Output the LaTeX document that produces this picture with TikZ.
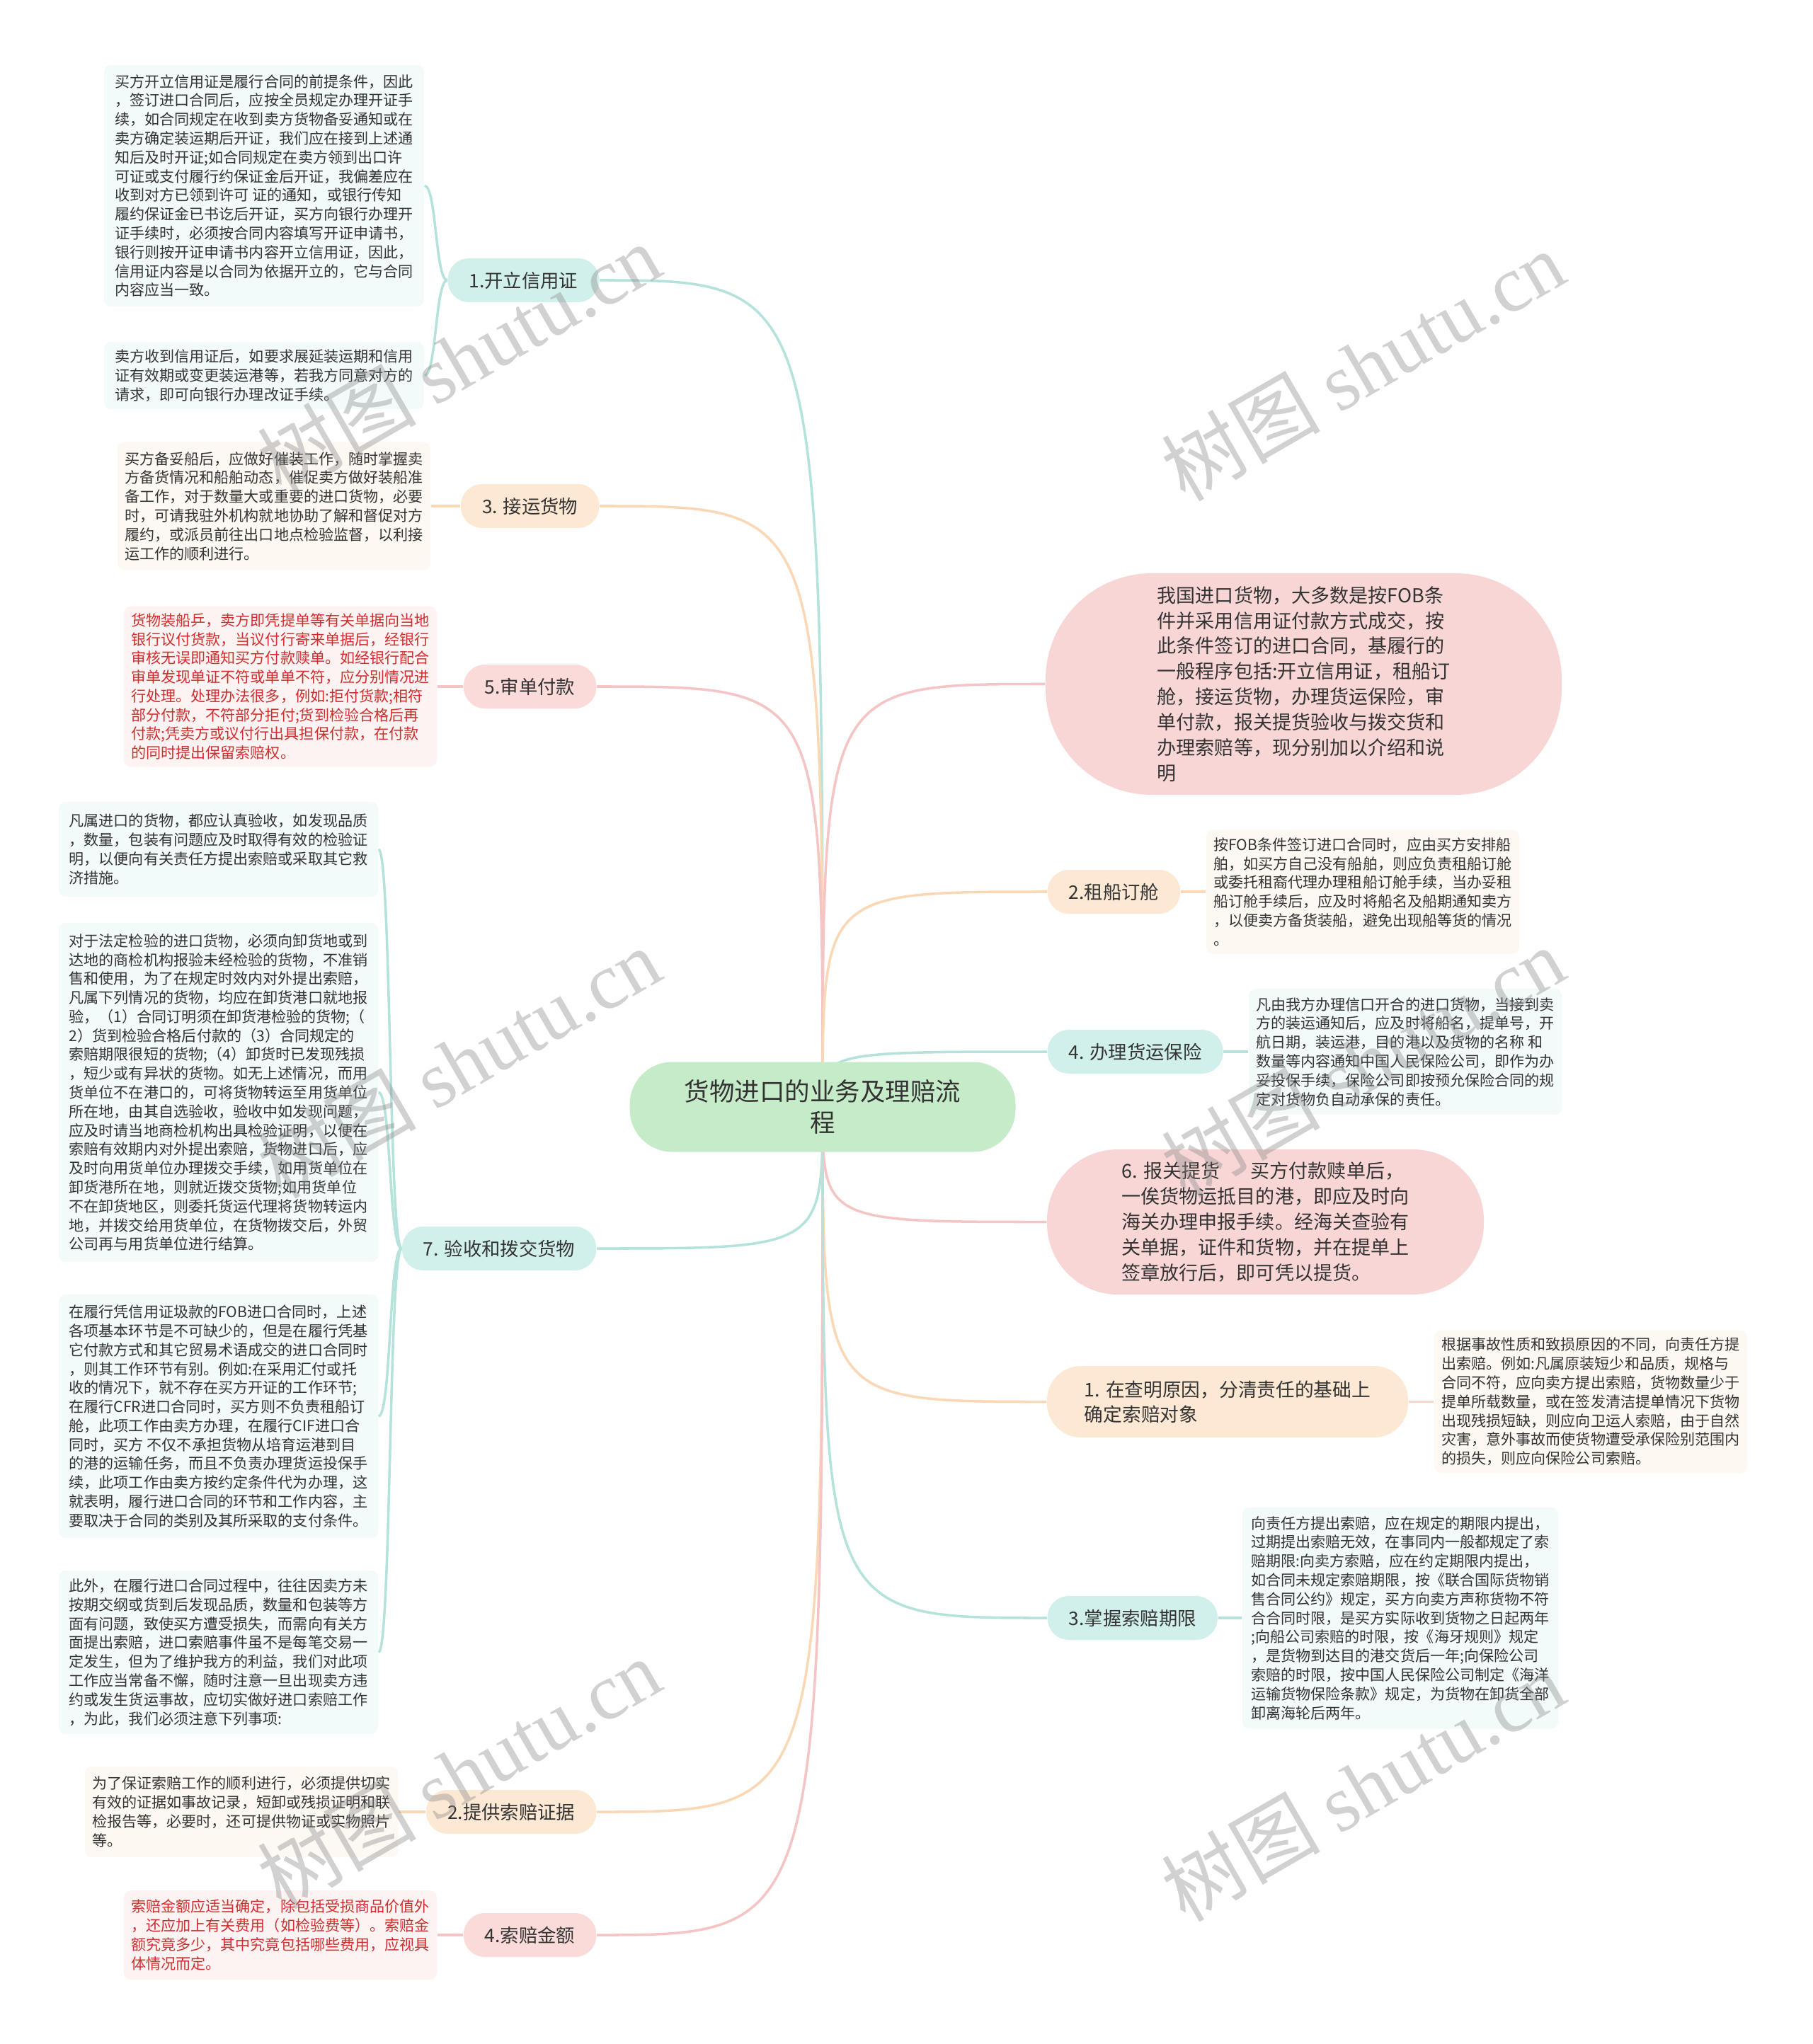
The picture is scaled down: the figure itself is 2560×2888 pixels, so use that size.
\documentclass[tikz,border=0pt]{standalone}
\usepackage{fontspec}
\setmainfont{Noto Sans CJK SC}
\newfontfamily\wmserif{Liberation Serif}
\usetikzlibrary{backgrounds}
\definecolor{tealF}{HTML}{D2F0EB}
\definecolor{tealL}{HTML}{B5E3DB}
\definecolor{orF}{HTML}{FDE8D4}
\definecolor{orL}{HTML}{FAD8B6}
\definecolor{pkF}{HTML}{FBDADA}
\definecolor{pkL}{HTML}{F5C4C4}
\definecolor{bigP}{HTML}{F9D6D6}
\definecolor{rootF}{HTML}{C6EBC8}
\definecolor{leafT}{HTML}{F3FAFA}
\definecolor{leafO}{HTML}{FEF8F2}
\definecolor{leafP}{HTML}{FEF3F3}
\definecolor{txt}{HTML}{333333}
\definecolor{redT}{HTML}{CF2E2E}
\definecolor{wmgray}{HTML}{8C8C8C}
\begin{document}
\begin{tikzpicture}[x=0.1mm,y=-0.1mm,
  conn/.style={line width=1pt},
  leaf/.style={rounded corners=1mm, align=left, inner sep=0pt, font=\fontsize{6}{7.62}\selectfont, text=txt},
  br/.style={rounded corners=3mm, inner xsep=3mm, inner ysep=0pt, minimum height=6.2mm, font=\fontsize{7.5}{9}\selectfont, text=txt},
  pill/.style={align=left, inner sep=0pt, font=\fontsize{7.7}{10.2}\selectfont, text=txt},
  root/.style={fill=rootF, rounded corners=6mm, minimum width=54.5mm, minimum height=12.7mm, align=center, inner sep=0pt, font=\fontsize{10.1}{12.6}\selectfont, text=txt},
  wm/.style={text=wmgray, opacity=0.4, font=\fontsize{32}{36}\selectfont, rotate=30, inner sep=0pt}
]
\useasboundingbox (0,0) rectangle (2560,2888);

% root
\node[root] (root) at (1162,1564) {货物进口的业务及理赔流\\程};

% left branches
\node[br, fill=tealF, anchor=east] (b1) at (847,396) {1.开立信用证};
\node[br, fill=orF, anchor=east] (b3) at (847,715) {3. 接运货物};
\node[br, fill=pkF, anchor=east] (b5) at (843,970) {5.审单付款};
\node[br, fill=tealF, anchor=east] (b7) at (843,1764) {7. 验收和拨交货物};
\node[br, fill=orF, anchor=east] (b2c) at (843,2560) {2.提供索赔证据};
\node[br, fill=pkF, anchor=east] (b4c) at (843,2734) {4.索赔金额};

% right branches
\node[pill, fill=bigP, minimum width=72.9mm, minimum height=31.3mm, rounded corners=15mm] (p1) at (1841.5,966.5)
 {我国进口货物，大多数是按FOB条\\件并采用信用证付款方式成交，按\\此条件签订的进口合同，基履行的\\一般程序包括:开立信用证，租船订\\舱，接运货物，办理货运保险，审\\单付款，报关提货验收与拨交货和\\办理索赔等，现分别加以介绍和说\\明};
\node[br, fill=orF, anchor=west] (r2) at (1479,1260) {2.租船订舱};
\node[br, fill=tealF, anchor=west] (r4) at (1479,1486) {4. 办理货运保险};
\node[pill, fill=bigP, minimum width=61.7mm, minimum height=20.5mm, rounded corners=10mm] (p6) at (1787.5,1726.5)
 {6. 报关提货\hspace{1.6em}买方付款赎单后，\\一俟货物运抵目的港，即应及时向\\海关办理申报手续。经海关查验有\\关单据，证件和货物，并在提单上\\签章放行后，即可凭以提货。};
\node[pill, fill=orF, minimum width=51mm, minimum height=10.1mm, rounded corners=4.8mm, font=\fontsize{7.6}{10}\selectfont] (p11) at (1734,1980.5)
 {1. 在查明原因，分清责任的基础上\\确定索赔对象};
\node[br, fill=tealF, anchor=west] (r3) at (1479,2286) {3.掌握索赔期限};

% left leaves
\node[leaf, fill=leafT, minimum width=45.2mm, minimum height=34.1mm] (A1) at (373,262.5)
 {买方开立信用证是履行合同的前提条件，因此\\，签订进口合同后，应按全员规定办理开证手\\续，如合同规定在收到卖方货物备妥通知或在\\卖方确定装运期后开证，我们应在接到上述通\\知后及时开证;如合同规定在卖方领到出口许\\可证或支付履行约保证金后开证，我偏差应在\\收到对方已领到许可~证的通知，或银行传知\\履约保证金已书讫后开证，买方向银行办理开\\证手续时，必须按合同内容填写开证申请书，\\银行则按开证申请书内容开立信用证，因此，\\信用证内容是以合同为依据开立的，它与合同\\内容应当一致。};
\node[leaf, fill=leafT, minimum width=45.2mm, minimum height=9.5mm] (A2) at (373,530.5)
 {卖方收到信用证后，如要求展延装运期和信用\\证有效期或变更装运港等，若我方同意对方的\\请求，即可向银行办理改证手续。};
\node[leaf, fill=leafO, minimum width=44.2mm, minimum height=18.1mm] (B) at (387,715)
 {买方备妥船后，应做好催装工作，随时掌握卖\\方备货情况和船舶动态，催促卖方做好装船准\\备工作，对于数量大或重要的进口货物，必要\\时，可请我驻外机构就地协助了解和督促对方\\履约，或派员前往出口地点检验监督，以利接\\运工作的顺利进行。};
\node[leaf, fill=leafP, text=redT, minimum width=44.2mm, minimum height=22.7mm] (C) at (396,970)
 {货物装船乒，卖方即凭提单等有关单据向当地\\银行议付货款，当议付行寄来单据后，经银行\\审核无误即通知买方付款赎单。如经银行配合\\审单发现单证不符或单单不符，应分别情况进\\行处理。处理办法很多，例如:拒付货款;相符\\部分付款，不符部分拒付;货到检验合格后再\\付款;凭卖方或议付行出具担保付款，在付款\\的同时提出保留索赔权。};
\node[leaf, fill=leafT, minimum width=45.1mm, minimum height=13.4mm] (D1) at (308.5,1200)
 {凡属进口的货物，都应认真验收，如发现品质\\，数量，包装有问题应及时取得有效的检验证\\明，以便向有关责任方提出索赔或采取其它救\\济措施。};
\node[leaf, fill=leafT, minimum width=45.1mm, minimum height=47.9mm] (D2) at (308.5,1543.5)
 {对于法定检验的进口货物，必须向卸货地或到\\达地的商检机构报验未经检验的货物，不准销\\售和使用，为了在规定时效内对外提出索赔，\\凡属下列情况的货物，均应在卸货港口就地报\\验，（1）合同订明须在卸货港检验的货物;（\\2）货到检验合格后付款的（3）合同规定的\\索赔期限很短的货物;（4）卸货时已发现残损\\，短少或有异状的货物。如无上述情况，而用\\货单位不在港口的，可将货物转运至用货单位\\所在地，由其自选验收，验收中如发现问题，\\应及时请当地商检机构出具检验证明，以便在\\索赔有效期内对外提出索赔，货物进口后，应\\及时向用货单位办理拨交手续，如用货单位在\\卸货港所在地，则就近拨交货物;如用货单位\\不在卸货地区，则委托货运代理将货物转运内\\地，并拨交给用货单位，在货物拨交后，外贸\\公司再与用货单位进行结算。};
\node[leaf, fill=leafT, minimum width=45.1mm, minimum height=34.4mm] (D3) at (308.5,2001)
 {在履行凭信用证圾款的FOB进口合同时，上述\\各项基本环节是不可缺少的，但是在履行凭基\\它付款方式和其它贸易术语成交的进口合同时\\，则其工作环节有别。例如:在采用汇付或托\\收的情况下，就不存在买方开证的工作环节;\\在履行CFR进口合同时，买方则不负责租船订\\舱，此项工作由卖方办理，在履行CIF进口合\\同时，买方~不仅不承担货物从培育运港到目\\的港的运输任务，而且不负责办理货运投保手\\续，此项工作由卖方按约定条件代为办理，这\\就表明，履行进口合同的环节和工作内容，主\\要取决于合同的类别及其所采取的支付条件。};
\node[leaf, fill=leafT, minimum width=45.1mm, minimum height=23.1mm] (D4) at (308.5,2334.5)
 {此外，在履行进口合同过程中，往往因卖方未\\按期交纲或货到后发现品质，数量和包装等方\\面有问题，致使买方遭受损失，而需向有关方\\面提出索赔，进口索赔事件虽不是每笔交易一\\定发生，但为了维护我方的利益，我们对此项\\工作应当常备不懈，随时注意一旦出现卖方违\\约或发生货运事故，应切实做好进口索赔工作\\，为此，我们必须注意下列事项:};
\node[leaf, fill=leafO, minimum width=44.2mm, minimum height=12.8mm] (E) at (341,2560)
 {为了保证索赔工作的顺利进行，必须提供切实\\有效的证据如事故记录，短卸或残损证明和联\\检报告等，必要时，还可提供物证或实物照片\\等。};
\node[leaf, fill=leafP, text=redT, minimum width=44.2mm, minimum height=12.6mm] (F) at (396,2734)
 {索赔金额应适当确定，除包括受损商品价值外\\，还应加上有关费用（如检验费等）。索赔金\\额究竟多少，其中究竟包括哪些费用，应视具\\体情况而定。};

% right leaves
\node[leaf, fill=leafO, minimum width=44.2mm, minimum height=17.5mm] (G) at (1925,1260)
 {按FOB条件签订进口合同时，应由买方安排船\\舶，如买方自己没有船舶，则应负责租船订舱\\或委托租裔代理办理租船订舱手续，当办妥租\\船订舱手续后，应及时将船名及船期通知卖方\\，以便卖方备货装船，避免出现船等货的情况\\。};
\node[leaf, fill=leafT, minimum width=44.2mm, minimum height=17.8mm] (H) at (1985,1486)
 {凡由我方办理信口开合的进口货物，当接到卖\\方的装运通知后，应及时将船名，提单号，开\\航日期，装运港，目的港以及货物的名称~和\\数量等内容通知中国人民保险公司，即作为办\\妥投保手续，保险公司即按预允保险合同的规\\定对货物负自动承保的责任。};
\node[leaf, fill=leafO, minimum width=44.2mm, minimum height=20.2mm] (I) at (2247,1980.5)
 {根据事故性质和致损原因的不同，向责任方提\\出索赔。例如:凡属原装短少和品质，规格与\\合同不符，应向卖方提出索赔，货物数量少于\\提单所载数量，或在签发清洁提单情况下货物\\出现残损短缺，则应向卫运人索赔，由于自然\\灾害，意外事故而使货物遭受承保险别范围内\\的损失，则应向保险公司索赔。};
\node[leaf, fill=leafT, minimum width=44.6mm, minimum height=31.3mm] (J) at (1978,2286)
 {向责任方提出索赔，应在规定的期限内提出，\\过期提出索赔无效，在事同内一般都规定了索\\赔期限:向卖方索赔，应在约定期限内提出，\\如合同未规定索赔期限，按《联合国际货物销\\售合同公约》规定，买方向卖方声称货物不符\\合合同时限，是买方实际收到货物之日起两年\\;向船公司索赔的时限，按《海牙规则》规定\\，是货物到达目的港交货后一年;向保险公司\\索赔的时限，按中国人民保险公司制定《海洋\\运输货物保险条款》规定，为货物在卸货全部\\卸离海轮后两年。};

% connectors (behind)
\begin{pgfonlayer}{background}
\fill[white] (0,0) rectangle (2560,2888);
\draw[conn, tealL] (root.center) .. controls (root.center |- b1.east) .. (b1.east);
\draw[conn, orL] (root.center) .. controls (root.center |- b3.east) .. (b3.east);
\draw[conn, pkL] (root.center) .. controls (root.center |- b5.east) .. (b5.east);
\draw[conn, tealL] (root.center) .. controls (root.center |- b7.east) .. (b7.east);
\draw[conn, orL] (root.center) .. controls (root.center |- b2c.east) .. (b2c.east);
\draw[conn, pkL] (root.center) .. controls (root.center |- b4c.east) .. (b4c.east);
\draw[conn, pkL] (root.center) .. controls (root.center |- p1.west) .. (p1.west);
\draw[conn, orL] (root.center) .. controls (root.center |- r2.west) .. (r2.west);
\draw[conn, tealL] (root.center) .. controls (root.center |- r4.west) .. (r4.west);
\draw[conn, pkL] (root.center) .. controls (root.center |- p6.west) .. (p6.west);
\draw[conn, orL] (root.center) .. controls (root.center |- p11.west) .. (p11.west);
\draw[conn, tealL] (root.center) .. controls (root.center |- r3.west) .. (r3.west);
% leaf connectors
\draw[conn, tealL] (b1.west) .. controls ([xshift=-1.7mm]b1.west) and ([xshift=1.7mm]A1.east) .. (A1.east);
\draw[conn, tealL] (b1.west) .. controls ([xshift=-1.7mm]b1.west) and ([xshift=1.7mm]A2.east) .. (A2.east);
\draw[conn, orL] (b3.west) -- (B.east);
\draw[conn, pkL] (b5.west) -- (C.east);
\draw[conn, tealL] (b7.west) .. controls ([xshift=-1.8mm]b7.west) and ([xshift=1.8mm]D1.east) .. (D1.east);
\draw[conn, tealL] (b7.west) .. controls ([xshift=-1.8mm]b7.west) and ([xshift=1.8mm]D2.east) .. (D2.east);
\draw[conn, tealL] (b7.west) .. controls ([xshift=-1.8mm]b7.west) and ([xshift=1.8mm]D3.east) .. (D3.east);
\draw[conn, tealL] (b7.west) .. controls ([xshift=-1.8mm]b7.west) and ([xshift=1.8mm]D4.east) .. (D4.east);
\draw[conn, orL] (b2c.west) -- (E.east);
\draw[conn, pkL] (b4c.west) -- (F.east);
\draw[conn, orL] (r2.east) -- (G.west);
\draw[conn, tealL] (r4.east) -- (H.west);
\draw[conn, orL] (p11.east) -- (I.west);
\draw[conn, tealL] (r3.east) -- (J.west);
\end{pgfonlayer}

% watermarks
\node[wm] (wm1) at (648,506) {树图 {\wmserif shutu.cn}};
\node[wm] (wm2) at (1925,516) {树图 {\wmserif shutu.cn}};
\node[wm] (wm3) at (648,1501) {树图 {\wmserif shutu.cn}};
\node[wm] (wm4) at (1925,1500) {树图 {\wmserif shutu.cn}};
\node[wm] (wm5) at (648,2505) {树图 {\wmserif shutu.cn}};
\node[wm] (wm6) at (1925,2523) {树图 {\wmserif shutu.cn}};
\end{tikzpicture}
\end{document}
